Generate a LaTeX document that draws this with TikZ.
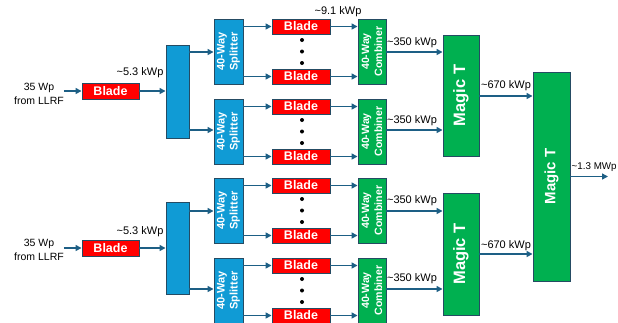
\documentclass[tikz,border=0pt]{standalone}
\usepackage{fontspec}
\setmainfont{Liberation Sans}
\usetikzlibrary{arrows.meta}
\definecolor{bladered}{HTML}{FF0000}
\definecolor{splitblue}{HTML}{109BD5}
\definecolor{combgreen}{HTML}{00B050}
\definecolor{edgecol}{HTML}{254B63}
\definecolor{arrcol}{HTML}{1D5F85}
\tikzset{
  box/.style={draw=edgecol, line width=0.9pt, inner sep=0pt, text=white, font=\bfseries},
  bladebox/.style={box, fill=bladered, minimum width=58, minimum height=15, font=\fontsize{12.5}{14}\selectfont\bfseries},
  splitbox/.style={box, fill=splitblue, rotate=90, minimum width=65, minimum height=29, align=center, font=\fontsize{11}{13}\selectfont\bfseries},
  combbox/.style={box, fill=combgreen, rotate=90, minimum width=65, minimum height=28, align=center, font=\fontsize{10.6}{13}\selectfont\bfseries},
  distbox/.style={box, fill=splitblue, minimum width=23},
  magicbox/.style={box, fill=combgreen, rotate=90, align=center},
  arr/.style={draw=arrcol, line width=1.6pt, -{Triangle[length=6pt,width=6pt]}},
  lbl/.style={inner sep=0pt, font=\fontsize{11}{13}\selectfont},
  srclbl/.style={inner sep=0pt, align=center, font=\fontsize{10.5}{14}\selectfont},
  dot/.style={fill=black}
}
\begin{document}
\begin{tikzpicture}[x=1pt,y=-1pt]
\useasboundingbox (0,0) rectangle (618,322);

% ---------- inputs ----------
\node[srclbl] (src1) at (39,94) {35 Wp\\from LLRF};
\node[srclbl] (src2) at (39,250) {35 Wp\\from LLRF};
\node[bladebox, minimum width=57, minimum height=16] (in1) at (110.5,91) {Blade};
\node[bladebox, minimum width=57, minimum height=16] (in2) at (110.5,248) {Blade};
\draw[arr] (src1.east |- in1) -- (in1.west);
\draw[arr] (src2.east |- in2) -- (in2.west);

% ---------- distributors ----------
\node[distbox, minimum height=93] (d1) at (177.5,91.5) {};
\node[distbox, minimum height=92] (d2) at (177.5,248) {};
\draw[arr] (in1.east) -- (d1.west |- in1);
\draw[arr] (in2.east) -- (d2.west |- in2);
\node[lbl] (l53a) at (140,73) {\textasciitilde5.3 kWp};
\node[lbl] (l53b) at (140,232) {\textasciitilde5.3 kWp};

% ---------- splitter / blade / combiner groups ----------
\foreach \g/\y in {1/19,2/99,3/178,4/258}{
  \node[splitbox] (s\g) at (228.5,\y+32.5) {40-Way\\Splitter};
  \node[bladebox] (ba\g) at (301,\y+7.5) {Blade};
  \node[bladebox] (bb\g) at (301,\y+57.5) {Blade};
  \node[combbox] (c\g) at (372,\y+32.5) {40-Way\\Combiner};
  \draw[arr] (s\g.south |- ba\g) -- (ba\g.west);
  \draw[arr] (s\g.south |- bb\g) -- (bb\g.west);
  \draw[arr] (ba\g.east) -- (c\g.north |- ba\g);
  \draw[arr] (bb\g.east) -- (c\g.north |- bb\g);
  \fill[dot] (302,\y+21) circle (2);
  \fill[dot] (302,\y+32.5) circle (2);
  \fill[dot] (302,\y+44) circle (2);
}
\node[lbl] (l91) at (338,12) {\textasciitilde9.1 kWp};

% distributor -> splitters
\draw[arr] (d1.east |- 0,52) -- (s1.north |- 0,52);
\draw[arr] (d1.east |- 0,130) -- (s2.north |- 0,130);
\draw[arr] (d2.east |- 0,211) -- (s3.north |- 0,211);
\draw[arr] (d2.east |- 0,289) -- (s4.north |- 0,289);

% ---------- magic T ----------
\node[magicbox, minimum width=121, minimum height=36, font=\fontsize{16.5}{18}\selectfont\bfseries] (m1) at (461,95.5) {Magic T};
\node[magicbox, minimum width=122, minimum height=36, font=\fontsize{16.5}{18}\selectfont\bfseries] (m2) at (461,254) {Magic T};
\node[magicbox, minimum width=209, minimum height=37, font=\fontsize{15}{18}\selectfont\bfseries] (mb) at (551.5,176.5) {Magic T};

\draw[arr] (c1.south |- 0,52) -- (m1.north |- 0,52);
\draw[arr] (c2.south |- 0,130) -- (m1.north |- 0,130);
\draw[arr] (c3.south |- 0,211) -- (m2.north |- 0,211);
\draw[arr] (c4.south |- 0,289) -- (m2.north |- 0,289);
\node[lbl] (l350a) at (412,43) {\textasciitilde350 kWp};
\node[lbl] (l350b) at (412,121) {\textasciitilde350 kWp};
\node[lbl] (l350c) at (412,201) {\textasciitilde350 kWp};
\node[lbl] (l350d) at (412,279) {\textasciitilde350 kWp};

\draw[arr] (m1.south |- 0,96) -- (mb.north |- 0,96);
\draw[arr] (m2.south |- 0,254) -- (mb.north |- 0,254);
\node[lbl] (l670a) at (506,86) {\textasciitilde670 kWp};
\node[lbl] (l670b) at (506,246) {\textasciitilde670 kWp};

\coordinate (out) at (608,176.5);
\draw[arr] (mb.south |- out) -- (out);
\node[lbl, anchor=west, font=\fontsize{9.8}{12}\selectfont] (l13) at (571.5,167) {\textasciitilde1.3 MWp};
\end{tikzpicture}
\end{document}
